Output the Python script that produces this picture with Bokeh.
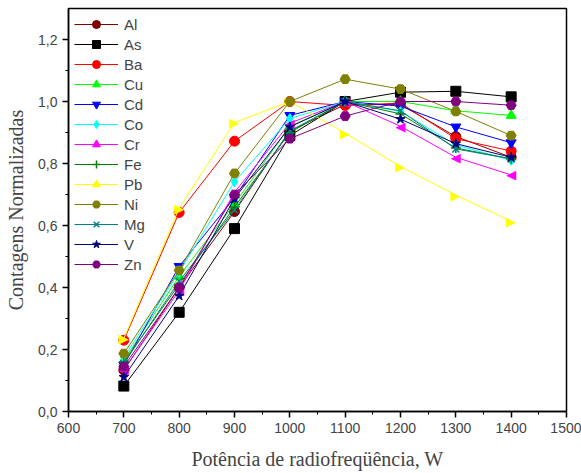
from bokeh.plotting import figure
from bokeh.models import FixedTicker, Range1d, Legend, ColumnDataSource
from bokeh.core.properties import value
from bokeh.embed import file_html
from bokeh.resources import INLINE

power = [700, 800, 900, 1000, 1100, 1200, 1300, 1400]

Al = [0.133, 0.400, 0.645, 0.905, 0.990, 0.990, 0.887, 0.820]
As = [0.082, 0.320, 0.590, 0.890, 1.000, 1.030, 1.033, 1.015]
Ba = [0.230, 0.642, 0.872, 1.000, 0.987, 0.995, 0.880, 0.840]
Cu = [0.165, 0.436, 0.670, 0.920, 1.000, 1.000, 0.970, 0.955]
Cd = [0.150, 0.468, 0.690, 0.955, 1.000, 0.985, 0.918, 0.867]
Co = [0.175, 0.450, 0.741, 0.945, 1.000, 0.968, 0.860, 0.810]
Cr = [0.136, 0.390, 0.707, 0.930, 1.000, 0.920, 0.820, 0.763]
Fe = [0.160, 0.410, 0.660, 0.900, 1.000, 0.960, 0.850, 0.815]
Pb = [0.236, 0.656, 0.932, 1.000, 0.898, 0.790, 0.698, 0.614]
Ni = [0.187, 0.455, 0.768, 1.000, 1.072, 1.040, 0.968, 0.890]
Mg = [0.155, 0.420, 0.650, 0.905, 1.000, 0.970, 0.847, 0.815]
V = [0.111, 0.373, 0.687, 0.918, 1.000, 0.943, 0.864, 0.820]
Zn = [0.145, 0.400, 0.700, 0.880, 0.953, 1.000, 1.000, 0.988]

x_ticks = [600, 700, 800, 900, 1000, 1100, 1200, 1300, 1400, 1500]
y_ticks = [0.0, 0.2, 0.4, 0.6, 0.8, 1.0, 1.2]
y_tick_labels = ["0,0", "0,2", "0,4", "0,6", "0,8", "1,0", "1,2"]

series = [
    ("Al", Al, "#800000", "circle", None),
    ("As", As, "#000000", "square", None),
    ("Ba", Ba, "#ff0000", "circle", None),
    ("Cu", Cu, "#00ff00", "triangle", None),
    ("Cd", Cd, "#0000ff", "inverted_triangle", None),
    ("Co", Co, "#00ffff", "diamond", None),
    ("Cr", Cr, "#ff00ff", "triangle", "\u25C0"),
    ("Fe", Fe, "#008000", "cross", None),
    ("Pb", Pb, "#ffff00", "triangle", "\u25B6"),
    ("Ni", Ni, "#808000", "hex", None),
    ("Mg", Mg, "#008080", "x", None),
    ("V", V, "#000080", "star", None),
    ("Zn", Zn, "#800080", "hex", None),
]

p = figure(width=581, height=473, output_backend="svg", toolbar_location=None,
           x_range=Range1d(600, 1500), y_range=Range1d(0, 1.3),
           min_border_left=68, min_border_right=15, min_border_top=8, min_border_bottom=62)

p.xgrid.visible = False
p.ygrid.visible = False
p.outline_line_color = "black"
p.outline_line_width = 1.5
p.background_fill_color = "white"
p.border_fill_color = "white"

items = []
for name, vals, col, mk, glyph_char in series:
    n = len(power)
    src = ColumnDataSource(dict(x=power, y=vals, t=[glyph_char or ""] * n))
    r1 = p.line("x", "y", source=src, line_color=col, line_width=1)
    lw = 1 if mk not in ("cross", "x") else 1.5
    if glyph_char:
        r2 = p.scatter("x", "y", source=src, marker=mk, size=0,
                       fill_color=col, line_color=col, line_width=lw)
        p.text("x", "y", text="t", source=src, text_color=col, text_align="center",
               text_baseline="middle", text_font=value("DejaVu Sans"), text_font_size="13px")
    else:
        r2 = p.scatter("x", "y", source=src, marker=mk, size=10,
                       fill_color=col, line_color=col, line_width=lw)
    items.append((name, [r1, r2]))

legend = Legend(items=items, location="top_left")
legend.label_text_font = "Liberation Sans"
legend.label_text_font_size = "15px"
legend.glyph_width = 44
legend.glyph_height = 20
legend.label_height = 16
legend.spacing = 0
legend.padding = 4
legend.margin = 6
legend.label_standoff = 6
legend.border_line_color = None
legend.background_fill_alpha = 1.0
p.add_layout(legend)

p.xaxis.ticker = FixedTicker(ticks=x_ticks, minor_ticks=[650 + 100 * i for i in range(9)])
p.yaxis.ticker = FixedTicker(ticks=y_ticks, minor_ticks=[0.1, 0.3, 0.5, 0.7, 0.9, 1.1])
p.yaxis.major_label_overrides = {t: l for t, l in zip(y_ticks, y_tick_labels)}

for ax in (p.xaxis[0], p.yaxis[0]):
    ax.axis_line_width = 1.5
    ax.major_tick_line_width = 1.5
    ax.major_tick_out = 6
    ax.major_tick_in = 0
    ax.minor_tick_out = 3
    ax.minor_tick_in = 0
    ax.major_label_text_font = "Liberation Sans"
    ax.major_label_text_font_size = "14px"
    ax.axis_label_text_font = "Liberation Serif"
    ax.axis_label_text_font_size = "20px"
    ax.axis_label_text_font_style = "normal"

p.xaxis.axis_label = "Potência de radiofreqüência, W"
p.yaxis.axis_label = "Contagens Normalizadas"
p.xaxis.axis_label_standoff = 12
p.yaxis.axis_label_standoff = 8

open("out.html", "w").write(file_html(p, INLINE))
